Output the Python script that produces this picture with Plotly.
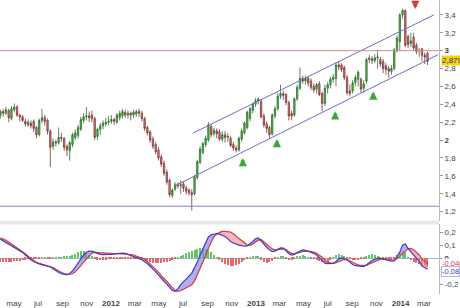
import plotly.graph_objects as go
import pandas as pd
import numpy as np

# ---------------- data ----------------
week_start = "2011-03-28"
n_weeks = 155
dates = pd.date_range(week_start, periods=n_weeks, freq="7D")

opens = [
    2.28, 2.32, 2.30, 2.33, 2.24, 2.34, 2.37, 2.28, 2.26, 2.21,
    2.17, 2.19, 2.21, 2.14, 2.06, 2.22, 2.25, 2.22, 2.10, 1.93,
    1.98, 1.97, 2.03, 2.02, 1.93, 1.88, 1.95, 2.03, 2.05, 2.12,
    2.22, 2.26, 2.27, 2.28, 2.24, 2.04, 2.12, 2.16, 2.18, 2.20,
    2.21, 2.23, 2.20, 2.25, 2.27, 2.31, 2.28, 2.30, 2.28, 2.29,
    2.32, 2.30, 2.24, 2.14, 2.09, 2.01, 1.95, 1.89, 1.81, 1.74,
    1.64, 1.55, 1.38, 1.45, 1.50, 1.49, 1.51, 1.46, 1.44, 1.41,
    1.40, 1.58, 1.75, 1.86, 1.95, 2.00, 2.15, 2.07, 2.10, 2.09,
    2.01, 2.06, 2.03, 2.02, 1.95, 1.91, 1.89, 2.01, 2.08, 2.14,
    2.24, 2.33, 2.40, 2.44, 2.43, 2.27, 2.18, 2.14, 2.07, 2.27,
    2.35, 2.49, 2.52, 2.51, 2.42, 2.30, 2.28, 2.46, 2.58, 2.69,
    2.66, 2.69, 2.66, 2.60, 2.57, 2.63, 2.52, 2.41, 2.58, 2.62,
    2.68, 2.69, 2.84, 2.84, 2.81, 2.70, 2.55, 2.55, 2.64, 2.68,
    2.68, 2.58, 2.66, 2.90, 2.91, 2.89, 2.92, 2.90, 2.88, 2.83,
    2.80, 2.77, 2.80, 3.00, 3.10, 3.40, 3.45, 3.16, 3.08, 3.15,
    3.06, 3.00, 3.02, 2.95, 2.97]
highs = [
    2.34, 2.35, 2.37, 2.35, 2.38, 2.41, 2.39, 2.29, 2.28, 2.24,
    2.23, 2.22, 2.23, 2.16, 2.24, 2.35, 2.28, 2.24, 2.12, 2.02,
    2.00, 2.14, 2.08, 2.03, 1.95, 1.99, 2.08, 2.12, 2.17, 2.26,
    2.30, 2.37, 2.32, 2.33, 2.26, 2.14, 2.19, 2.22, 2.25, 2.27,
    2.28, 2.25, 2.30, 2.33, 2.35, 2.34, 2.33, 2.32, 2.34, 2.34,
    2.35, 2.33, 2.26, 2.16, 2.11, 2.04, 1.98, 1.92, 1.84, 1.77,
    1.67, 1.57, 1.46, 1.53, 1.53, 1.55, 1.53, 1.49, 1.46, 1.45,
    1.61, 1.78, 1.93, 1.98, 2.05, 2.20, 2.18, 2.14, 2.13, 2.12,
    2.10, 2.10, 2.08, 2.05, 1.98, 1.94, 2.04, 2.13, 2.21, 2.33,
    2.37, 2.42, 2.47, 2.48, 2.46, 2.30, 2.21, 2.16, 2.30, 2.38,
    2.52, 2.62, 2.55, 2.53, 2.44, 2.33, 2.48, 2.62, 2.81, 2.72,
    2.72, 2.71, 2.69, 2.63, 2.64, 2.66, 2.54, 2.62, 2.65, 2.71,
    2.74, 2.87, 2.88, 2.86, 2.83, 2.73, 2.62, 2.67, 2.73, 2.78,
    2.70, 2.67, 2.92, 2.95, 2.94, 2.96, 3.01, 2.93, 2.91, 2.86,
    2.83, 2.84, 3.03, 3.17, 3.42, 3.47, 3.46, 3.18, 3.20, 3.20,
    3.09, 3.03, 3.03, 2.98, 2.99]
lows = [
    2.24, 2.26, 2.28, 2.20, 2.22, 2.31, 2.26, 2.21, 2.20, 2.15,
    2.15, 2.13, 2.09, 2.02, 2.04, 2.19, 2.16, 2.06, 1.70, 1.89,
    1.93, 1.95, 1.98, 1.88, 1.82, 1.77, 1.92, 2.00, 2.02, 2.10,
    2.19, 2.22, 2.20, 2.20, 2.00, 2.00, 2.06, 2.12, 2.15, 2.17,
    2.18, 2.17, 2.18, 2.22, 2.24, 2.25, 2.24, 2.22, 2.25, 2.26,
    2.26, 2.21, 2.10, 2.05, 1.97, 1.90, 1.84, 1.77, 1.70, 1.60,
    1.50, 1.36, 1.35, 1.43, 1.46, 1.40, 1.42, 1.39, 1.38, 1.21,
    1.38, 1.56, 1.73, 1.84, 1.92, 1.98, 2.03, 2.04, 2.02, 1.99,
    1.98, 1.97, 1.98, 1.92, 1.88, 1.86, 1.87, 1.98, 2.06, 2.12,
    2.21, 2.30, 2.37, 2.40, 2.24, 2.14, 2.08, 2.01, 2.05, 2.24,
    2.33, 2.46, 2.45, 2.39, 2.22, 2.22, 2.26, 2.44, 2.56, 2.63,
    2.62, 2.60, 2.56, 2.53, 2.52, 2.49, 2.32, 2.38, 2.52, 2.58,
    2.64, 2.60, 2.78, 2.76, 2.67, 2.50, 2.49, 2.52, 2.60, 2.60,
    2.53, 2.53, 2.63, 2.86, 2.85, 2.86, 2.80, 2.82, 2.75, 2.73,
    2.70, 2.73, 2.78, 2.98, 3.00, 3.36, 3.04, 3.03, 3.04, 3.00,
    2.96, 2.93, 2.88, 2.85, 2.84]
closes = [
    2.32, 2.30, 2.34, 2.25, 2.35, 2.37, 2.28, 2.26, 2.22, 2.18,
    2.20, 2.16, 2.13, 2.06, 2.22, 2.25, 2.21, 2.10, 1.92, 1.98,
    1.97, 2.03, 2.02, 1.92, 1.89, 1.97, 2.06, 2.08, 2.14, 2.23,
    2.26, 2.27, 2.25, 2.24, 2.03, 2.12, 2.16, 2.19, 2.20, 2.21,
    2.23, 2.21, 2.28, 2.30, 2.32, 2.28, 2.30, 2.28, 2.31, 2.32,
    2.30, 2.24, 2.13, 2.08, 2.00, 1.93, 1.87, 1.80, 1.73, 1.63,
    1.53, 1.39, 1.44, 1.50, 1.49, 1.50, 1.46, 1.43, 1.41, 1.39,
    1.59, 1.76, 1.90, 1.96, 2.02, 2.17, 2.06, 2.11, 2.07, 2.01,
    2.06, 2.03, 2.04, 1.94, 1.91, 1.89, 2.02, 2.10, 2.19, 2.31,
    2.35, 2.40, 2.44, 2.46, 2.26, 2.17, 2.13, 2.06, 2.28, 2.35,
    2.49, 2.52, 2.50, 2.42, 2.27, 2.27, 2.46, 2.59, 2.69, 2.66,
    2.69, 2.64, 2.59, 2.56, 2.62, 2.51, 2.41, 2.58, 2.62, 2.68,
    2.70, 2.84, 2.82, 2.79, 2.70, 2.53, 2.52, 2.64, 2.70, 2.76,
    2.57, 2.63, 2.90, 2.92, 2.89, 2.92, 2.93, 2.85, 2.80, 2.79,
    2.77, 2.80, 3.01, 3.14, 3.40, 3.45, 3.06, 3.07, 3.11, 3.03,
    2.99, 3.00, 2.95, 2.93, 2.879]

macd = [
    .148, .135, .122, .108, .095, .083, .072, .060, .045, .025,
    .005, -.012, -.025, -.038, -.045, -.050, -.055, -.060, -.068, -.082,
    -.097, -.110, -.119, -.125, -.128, -.118, -.098, -.068, -.035, -.005,
    .025, .046, .055, .055, .045, .036, .030, .028, .028, .029,
    .030, .032, .036, .039, .040, .037, .030, .022, .014, .006,
    -.003, -.012, -.025, -.043, -.062, -.080, -.105, -.130, -.158, -.178,
    -.200, -.225, -.250, -.256, -.235, -.205, -.180, -.158, -.138, -.115,
    -.075, -.030, .025, .075, .120, .165, .182, .188, .190, .187,
    .180, .168, .150, .130, .118, .108, .102, .097, .093, .095,
    .110, .130, .150, .158, .135, .105, .085, .065, .052, .055,
    .068, .080, .078, .060, .035, .025, .030, .045, .058, .065,
    .062, .055, .045, .038, .025, .005, -.018, -.038, -.042, -.042,
    -.040, -.025, -.005, .002, -.003, -.012, -.030, -.048, -.058, -.062,
    -.066, -.065, -.050, -.030, -.018, -.008, .000, -.002, -.006, -.010,
    -.015, -.022, -.020, .010, .048, .100, .110, .075, .050, .030,
    .005, -.025, -.060, -.075, -.085]
signal = [
    .158, .150, .140, .125, .110, .095, .082, .070, .055, .035,
    .015, -.003, -.018, -.032, -.040, -.046, -.051, -.056, -.062, -.072,
    -.086, -.100, -.110, -.119, -.125, -.124, -.120, -.105, -.085, -.058,
    -.030, -.005, .020, .040, .045, .044, .040, .038, .036, .035,
    .035, .034, .034, .035, .035, .034, .032, .029, .025, .018,
    .010, .002, -.008, -.025, -.045, -.065, -.085, -.108, -.135, -.155,
    -.178, -.205, -.232, -.250, -.256, -.252, -.240, -.228, -.218, -.205,
    -.175, -.130, -.080, -.030, .025, .080, .125, .165, .188, .200,
    .208, .208, .206, .203, .190, .168, .152, .138, .118, .102,
    .100, .108, .125, .140, .145, .125, .105, .085, .072, .065,
    .065, .070, .072, .068, .050, .038, .035, .038, .045, .052,
    .055, .055, .052, .048, .038, .025, .008, -.015, -.030, -.037,
    -.040, -.035, -.025, -.015, -.010, -.010, -.020, -.035, -.045, -.052,
    -.056, -.058, -.055, -.045, -.035, -.022, -.012, -.007, -.005, -.005,
    -.008, -.012, -.016, -.005, .015, .040, .062, .075, .076, .065,
    .045, .025, -.005, -.028, -.046]
hist = [
    -.030, -.032, -.032, -.030, -.030, -.028, -.025, -.022, -.020, -.015,
    -.010, -.008, -.006, -.004, -.003, .002, .002, -.002, -.003, .003,
    .002, .003, .004, .006, .010, .015, .022, .032, .045, .055,
    .050, .040, .025, .010, -.010, -.015, -.016, -.015, -.014, -.012,
    -.010, -.008, -.006, -.005, -.004, -.006, -.008, -.010, -.012, -.010,
    -.008, -.015, -.025, -.030, -.035, -.038, -.040, -.042, -.040, -.035,
    -.030, -.025, -.015, -.005, .005, .015, .025, .035, .045, .052,
    .060, .070, .075, .078, .070, .060, .045, .025, .005, -.015,
    -.030, -.045, -.055, -.060, -.060, -.055, -.045, -.035, -.020, -.005,
    .005, .012, .015, .012, -.015, -.030, -.040, -.035, -.025, -.010,
    .004, .010, .008, -.010, -.018, -.015, -.005, .008, .015, .018,
    .010, .002, -.006, -.010, -.015, -.025, -.035, -.040, -.030, -.015,
    .005, .018, .028, .025, .012, -.005, -.012, -.018, -.020, -.016,
    -.012, -.008, .008, .020, .026, .022, .015, .004, -.004, -.008,
    -.010, -.012, -.008, .020, .040, .055, .048, .005, -.020, -.030,
    -.040, -.050, -.060, -.065, -.070]

resistance_level = 3.0
support_level = 1.26
channel_upper_dates = ["2012-07-26", "2014-03-26"]
channel_upper_values = [2.078, 3.40]
channel_lower_dates = ["2012-06-11", "2014-04-06"]
channel_lower_values = [1.489, 2.956]
# arrow tips (buy signals point up, sell signal points down)
buy_dates = ["2012-11-29", "2013-02-23", "2013-07-20", "2013-10-24"]
buy_tips = [1.80, 2.011, 2.322, 2.544]
sell_dates = ["2014-02-07"]
sell_tips = [3.467]
last_price_text = "2,879"
last_macd_text = "-0,08"
last_signal_text = "-0,046"

month_ticks = ["2011-05-01", "2011-07-01", "2011-09-01", "2011-11-01", "2012-01-01",
               "2012-03-01", "2012-05-01", "2012-07-01", "2012-09-01", "2012-11-01",
               "2013-01-01", "2013-03-01", "2013-05-01", "2013-07-01", "2013-09-01",
               "2013-11-01", "2014-01-01", "2014-03-01"]
month_labels = ["may", "jul", "sep", "nov", "<b>2012</b>", "mar", "may", "jul", "sep", "nov",
                "<b>2013</b>", "mar", "may", "jul", "sep", "nov", "<b>2014</b>", "mar"]
price_ticks = [1.2, 1.4, 1.6, 1.8, 2.0, 2.2, 2.4, 2.6, 2.8, 3.0, 3.2, 3.4]
price_labels = ["1,2", "1,4", "1,6", "1,8", "<b>2</b>", "2,2", "2,4", "2,6", "2,8",
                "<b>3</b>", "3,2", "3,4"]
macd_ticks = [0.2, 0.1, 0.0, -0.2]
macd_labels = ["0,2", "0,1", "<b>0</b>", "-0,2"]

# ---------------- figure ----------------
FONT = "Liberation Sans"
x_range = ["2011-03-27", "2014-04-08"]

fig = go.Figure()

fig.add_trace(go.Candlestick(
    x=dates, open=opens, high=highs, low=lows, close=closes,
    increasing=dict(line=dict(color="#2f6e2f", width=0.8), fillcolor="#55b955"),
    decreasing=dict(line=dict(color="#7a3434", width=0.8), fillcolor="#e0837d"),
    whiskerwidth=0, xaxis="x", yaxis="y", showlegend=False, hoverinfo="skip"))

fig.add_trace(go.Scatter(x=channel_upper_dates, y=channel_upper_values, mode="lines",
                         line=dict(color="#6b6bd2", width=1), xaxis="x", yaxis="y",
                         showlegend=False, hoverinfo="skip"))
fig.add_trace(go.Scatter(x=channel_lower_dates, y=channel_lower_values, mode="lines",
                         line=dict(color="#6b6bd2", width=1), xaxis="x", yaxis="y",
                         showlegend=False, hoverinfo="skip"))

# MACD panel
hist_colors = ["#62c462" if v >= 0 else "#e46a6a" for v in hist]
fig.add_trace(go.Bar(x=dates, y=hist, marker=dict(color=hist_colors, line=dict(width=0)),
                     width=[2.6 * 86400000] * n_weeks,
                     xaxis="x2", yaxis="y2", showlegend=False, hoverinfo="skip"))

m_arr = np.array(macd)
s_arr = np.array(signal)
low_env = np.minimum(m_arr, s_arr)
fig.add_trace(go.Scatter(x=dates, y=low_env, mode="lines", line=dict(width=0),
                         xaxis="x2", yaxis="y2", showlegend=False, hoverinfo="skip"))
fig.add_trace(go.Scatter(x=dates, y=m_arr, mode="lines", line=dict(width=0),
                         fill="tonexty", fillcolor="rgba(130,130,235,0.65)",
                         xaxis="x2", yaxis="y2", showlegend=False, hoverinfo="skip"))
fig.add_trace(go.Scatter(x=dates, y=low_env, mode="lines", line=dict(width=0),
                         xaxis="x2", yaxis="y2", showlegend=False, hoverinfo="skip"))
fig.add_trace(go.Scatter(x=dates, y=s_arr, mode="lines", line=dict(width=0),
                         fill="tonexty", fillcolor="rgba(240,145,150,0.65)",
                         xaxis="x2", yaxis="y2", showlegend=False, hoverinfo="skip"))
fig.add_trace(go.Scatter(x=dates, y=signal, mode="lines",
                         line=dict(color="#d23c3c", width=1.2),
                         xaxis="x2", yaxis="y2", showlegend=False, hoverinfo="skip"))
fig.add_trace(go.Scatter(x=dates, y=macd, mode="lines",
                         line=dict(color="#3c3cc8", width=1.2),
                         xaxis="x2", yaxis="y2", showlegend=False, hoverinfo="skip"))

axis_font = dict(family=FONT, size=8, color="#444444")

annotations = [
    dict(xref="paper", x=1, yref="y", y=closes[-1], text=last_price_text,
         showarrow=False, xanchor="left", xshift=2, yshift=1, bgcolor="#f2d21c",
         borderpad=0, font=dict(family=FONT, size=8, color="#333333")),
    dict(xref="paper", x=1, yref="y2", y=signal[-1], text=last_signal_text,
         showarrow=False, xanchor="left", xshift=2, yshift=1, bgcolor="white",
         borderpad=0, font=dict(family=FONT, size=7.5, color="#d23c3c")),
    dict(xref="paper", x=1, yref="y2", y=macd[-1], text=last_macd_text,
         showarrow=False, xanchor="left", xshift=2, yshift=-2, bgcolor="white",
         bordercolor="#b0b8e0", borderwidth=1, borderpad=0,
         font=dict(family=FONT, size=7.5, color="#3c3cc8")),
]
for d, v in zip(buy_dates, buy_tips):
    annotations.append(dict(xref="x", yref="y", x=d, y=v, text="", showarrow=True,
                            arrowhead=2, arrowsize=0.55, arrowwidth=3,
                            arrowcolor="#3aa83a", ax=0, ay=8, standoff=0))
for d, v in zip(sell_dates, sell_tips):
    annotations.append(dict(xref="x", yref="y", x=d, y=v, text="", showarrow=True,
                            arrowhead=2, arrowsize=0.55, arrowwidth=3,
                            arrowcolor="#d83a3a", ax=0, ay=-8, standoff=0))

fig.update_layout(
    width=460, height=308,
    margin=dict(l=0, r=21, t=0, b=12),
    paper_bgcolor="white", plot_bgcolor="white",
    font=dict(family=FONT, size=8, color="#444444"),
    separators=",.",
    showlegend=False,
    bargap=0,
    xaxis=dict(domain=[0, 1], anchor="y", range=x_range, showticklabels=False,
               showgrid=False, zeroline=False, showline=False, ticks="",
               rangeslider=dict(visible=False), type="date"),
    yaxis=dict(domain=[0.25, 1], anchor="x", side="right", range=[1.1, 3.567],
               tickvals=price_ticks, ticktext=price_labels, ticks="outside",
               ticklen=3, tickcolor="#999999", showline=True, linecolor="#b8b8b8",
               linewidth=1, showgrid=False, zeroline=False, tickfont=axis_font),
    xaxis2=dict(domain=[0, 1], anchor="y2", range=x_range, matches="x",
                tickvals=month_ticks, ticktext=month_labels, ticks="",
                ticklabelstandoff=3,
                showgrid=False, zeroline=False, showline=False, tickfont=axis_font,
                type="date"),
    yaxis2=dict(domain=[0, 0.2365], anchor="x2", side="right", range=[-0.277, 0.2615],
                tickvals=macd_ticks, ticktext=macd_labels, ticks="outside",
                ticklen=3, tickcolor="#999999", showline=True, linecolor="#b8b8b8",
                linewidth=1, showgrid=False, zeroline=True, zerolinecolor="#9ab4de",
                zerolinewidth=1, tickfont=axis_font),
    shapes=[
        dict(type="line", xref="paper", x0=0, x1=1, yref="y",
             y0=resistance_level, y1=resistance_level,
             line=dict(color="#d98a8a", width=1)),
        dict(type="line", xref="paper", x0=0, x1=1, yref="y",
             y0=support_level, y1=support_level,
             line=dict(color="#8080c8", width=1)),
        dict(type="rect", xref="paper", x0=0, x1=1, yref="paper",
             y0=0.2365, y1=0.25, fillcolor="#e8e8e8", line=dict(width=0),
             layer="below"),
    ],
    annotations=annotations,
)

fig.write_html("out.html")
